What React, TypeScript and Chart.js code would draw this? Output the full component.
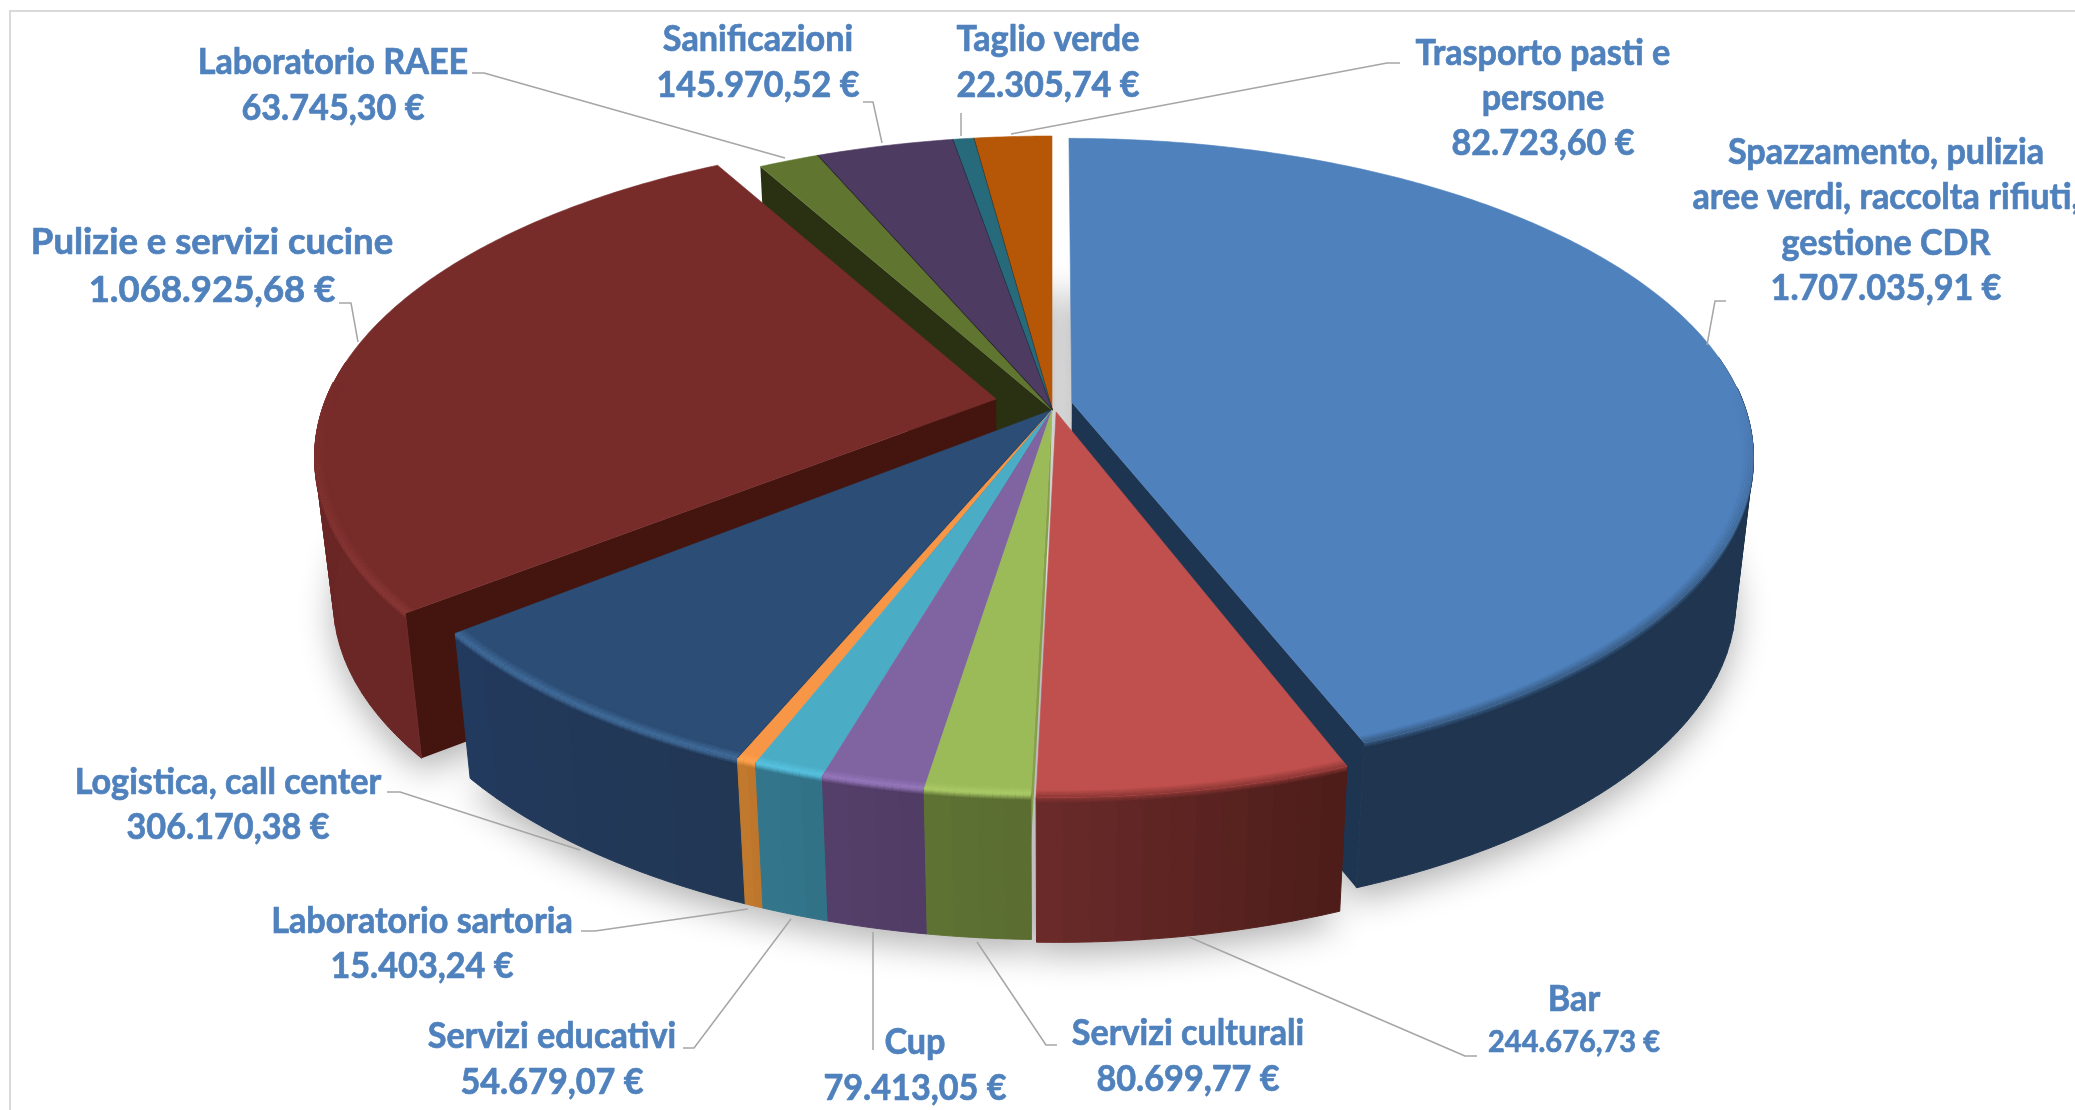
import React, { useEffect, useRef } from "react";
import { Chart, registerables } from "chart.js";

Chart.register(...registerables);

const CATEGORY_LINES: string[][] = [
  ["Spazzamento, pulizia", "aree verdi, raccolta rifiuti,", "gestione CDR"],
  ["Bar"],
  ["Servizi culturali"],
  ["Cup"],
  ["Servizi educativi"],
  ["Laboratorio sartoria"],
  ["Logistica, call center"],
  ["Pulizie e servizi cucine"],
  ["Laboratorio RAEE"],
  ["Sanificazioni"],
  ["Taglio verde"],
  ["Trasporto pasti e", "persone"],
];
const VALUES = [
  1707035.91, 244676.73, 80699.77, 79413.05, 54679.07, 15403.24, 306170.38,
  1068925.68, 63745.3, 145970.52, 22305.74, 82723.6,
];
const EXPLODE = [0.03, 0.006, 0, 0, 0, 0, 0, 0.085, 0, 0, 0, 0];
const NUDGE_U = [0, 0.005, 0, 0, 0, 0, 0, 0, 0, 0, 0, 0];
const SCALE_U = [1, 0.985, 1, 1, 1, 1, 1, 1, 1, 1, 1, 1];
const CUT_DEPTH = [1, 1, 0.35, 1, 1, 1, 1, 1, 1, 1, 1, 1];
const TEXT_STRETCH = [0.95, 0.95, 0.95, 0.95, 0.95, 0.95, 0.95, 1.015, 0.95, 0.95, 0.95, 0.95];

const TOP_COLORS = ["#4f81bd", "#c0504d", "#9bbb59", "#8064a2", "#4bacc6", "#f79646", "#2c4d75", "#772c2a", "#5f7530", "#4d3b62", "#276a7c", "#b65708"];
const BEVEL_COLORS = ["#37597f", "#8a3735", "#abcb69", "#9678bc", "#58c4e2", "#ffa44e", "#44709f", "#8c3a37", "#5f7530", "#4d3b62", "#276a7c", "#b65708"];
const WALL_LEFT = ["#1f3550", "#6b2b2a", "#5f7335", "#553f6c", "#34788e", "#c47c30", "#223a5e", "#652423", "#2a3012", "#2c2140", "#123c48", "#6a3305"];
const WALL_RIGHT = ["#1f3550", "#4e1d1a", "#5b6d31", "#503c64", "#317287", "#bd762c", "#213754", "#6b2726", "#2a3012", "#2c2140", "#123c48", "#6a3305"];
const CUT_COLORS = ["#1d3550", "#5a2120", "#86a04a", "#553f6c", "#34788e", "#c47c30", "#173a60", "#44150f", "#2a3012", "#0f0c1c", "#0e2c35", "#4a2404"];
const EDGE_SLICES = [6, 9, 10, 11];
const TEXT_COLOR = "#4f81bd";
const LEADER_COLOR = "#a6a6a6";

// label centre x, first line centre y, line gap, font size
const LABEL_BOXES: number[][] = [
  [1886, 152, 45.6, 36],
  [1574, 999, 43, 36],
  [1188, 1033, 46, 36],
  [915, 1042, 46, 36],
  [552, 1036, 46, 36],
  [422, 921, 45, 36],
  [228, 782, 45, 36],
  [212, 242, 48, 36],
  [333, 62, 46, 36],
  [758, 39, 46, 36],
  [1048, 39, 46, 36],
  [1543, 53, 45, 36],
];
const VALUE_FONT_OVERRIDE: Record<number, number> = { 1: 30.5 };
const LEADERS: number[][][] = [
  [[1726, 301], [1715, 301], [1707, 345]],
  [[1477, 1056], [1465, 1056], [1189, 937]],
  [[1057, 1045], [1046, 1045], [977, 942]],
  [[873, 1050], [873, 932]],
  [[683, 1048], [694, 1048], [791, 919]],
  [[581, 931], [595, 931], [748, 909]],
  [[387, 792], [400, 792], [580, 850]],
  [[339, 303], [351, 303], [358, 342]],
  [[472, 73], [484, 73], [785, 158]],
  [[863, 102], [873, 102], [882, 143]],
  [[961, 113], [961, 136]],
  [[1011, 134], [1387, 63], [1400, 63]],
];

const CX = 1052, CY = 410, PX = 684, PY = 320, PERSP = 0.168, DEPTH = 145, FLOOR_X = 0.975;

function euro(v: number): string {
  const [i, d] = v.toFixed(2).split(".");
  return i.replace(/\B(?=(\d{3})+(?!\d))/g, ".") + "," + d + " €";
}
function hex(c: string) {
  return [1, 3, 5].map((k) => parseInt(c.slice(k, k + 2), 16));
}
function mix(a: string, b: string, t: number): string {
  const A = hex(a), B = hex(b);
  return `rgb(${A.map((x, i) => Math.round(x + (B[i] - x) * t)).join(",")})`;
}

type Pt = [number, number];
function project(i: number, phi: number, r: number, mid: number, floor: number): Pt {
  const e = EXPLODE[i];
  const u = (r * Math.cos(phi) + e * Math.cos(mid)) * SCALE_U[i] + NUDGE_U[i];
  const v = r * Math.sin(phi) + e * Math.sin(mid);
  const w = 1 / (1 - PERSP * v);
  let x = PX * u * w;
  let y = PY * v * w;
  if (e > 0.02) {
    x *= 0.982;
    y = y * 0.965 - 6;
  }
  x *= 1 - (1 - FLOOR_X) * floor;
  y += DEPTH * floor;
  return [CX + x, CY + y];
}

function poly(ctx: CanvasRenderingContext2D, pts: Pt[], close = true) {
  ctx.beginPath();
  pts.forEach((p, k) => (k ? ctx.lineTo(p[0], p[1]) : ctx.moveTo(p[0], p[1])));
  if (close) ctx.closePath();
}

function angles(a0: number, a1: number, step = 0.01): number[] {
  const n = Math.max(2, Math.ceil((a1 - a0) / step));
  const out: number[] = [];
  for (let k = 0; k <= n; k++) out.push(a0 + ((a1 - a0) * k) / n);
  return out;
}

const pie3d = {
  id: "pie3d",
  beforeDatasetsDraw(chart: any) {
    const ctx: CanvasRenderingContext2D = chart.ctx;
    const arcs = chart.getDatasetMeta(0).data as any[];
    const count = arcs.length;
    const slices = arcs.map((a, i) => {
      const s = a.startAngle as number, t = a.endAngle as number;
      return { i, s, t, mid: (s + t) / 2 };
    });

    ctx.save();
    ctx.fillStyle = "#ffffff";
    ctx.fillRect(0, 0, chart.width, chart.height);
    ctx.strokeStyle = "#d9d9d9";
    ctx.lineWidth = 2;
    ctx.beginPath();
    ctx.moveTo(10, chart.height);
    ctx.lineTo(10, 11);
    ctx.lineTo(chart.width, 11);
    ctx.stroke();

    // soft shadow under the pie
    ctx.save();
    ctx.shadowColor = "rgba(0,0,0,0.30)";
    ctx.shadowBlur = 34;
    ctx.shadowOffsetX = 5000;
    ctx.shadowOffsetY = 12;
    ctx.fillStyle = "#000";
    for (const sl of slices) {
      const pts: Pt[] = [project(sl.i, 0, 0, sl.mid, 1)];
      for (const a of angles(sl.s, sl.t)) pts.push(project(sl.i, a, 1, sl.mid, 1));
      poly(ctx, pts.map((p) => [p[0] - 5000, p[1]] as Pt));
      ctx.fill();
    }
    ctx.restore();

    const order = [...slices].sort((a, b) => Math.sin(a.mid) - Math.sin(b.mid));
    ctx.lineJoin = "round";
    for (const sl of order) {
      const { i, s, t, mid } = sl;
      const topC = (a: number) => project(i, a, 1, mid, 0);
      const botC = (a: number) => project(i, a, 1, mid, 1);
      const c0 = project(i, 0, 0, mid, 0);
      // cut faces: only seen where this slice or its neighbour is pulled out
      const prev = (i + count - 1) % count, next = (i + 1) % count;
      const faces: [number, boolean][] = [
        [s, -Math.cos(s) > 0 && (EXPLODE[i] > 0 || EXPLODE[prev] > 0)],
        [t, Math.cos(t) > 0 && (EXPLODE[i] > 0 || EXPLODE[next] > 0)],
      ];
      for (const [a, show] of faces) {
        if (!show) continue;
        const d = CUT_DEPTH[i];
        // a slice that stays in place keeps its hidden inner end away from the gaps in front of it
        const inner = EXPLODE[i] > 0 ? 0 : 0.15;
        poly(ctx, [c0, topC(a), project(i, a, 1, mid, d), project(i, a, inner, mid, d)]);
        ctx.fillStyle = CUT_COLORS[i];
        ctx.fill();
      }
      // outer wall
      const as = angles(s, t);
      const wallAngles = angles(s, t, 0.035);
      for (let k = 0; k < wallAngles.length - 1; k++) {
        const a0 = wallAngles[k], a1 = wallAngles[k + 1];
        if (Math.sin(a0) < -0.12 && Math.sin(a1) < -0.12) continue;
        const f = k / (wallAngles.length - 1);
        const col = mix(WALL_LEFT[i], WALL_RIGHT[i], 1 - f);
        const pts: Pt[] = [];
        const fine = angles(a0, a1, 0.01);
        fine.forEach((a) => pts.push(topC(a)));
        [...fine].reverse().forEach((a) => pts.push(botC(a)));
        poly(ctx, pts);
        ctx.fillStyle = col;
        ctx.strokeStyle = col;
        ctx.lineWidth = 1;
        ctx.fill();
        ctx.stroke();
      }
      const front = as.filter((a) => Math.sin(a) > -0.12);
      const fade = (a: number) => Math.max(0, Math.min(1, (Math.sin(a) + 0.05) / 0.6));
      // soft transition on the wall's upper edge
      if (front.length > 1) {
        ctx.lineWidth = 1.6;
        for (let j = 0; j < front.length - 1; j++) {
          const a0 = front[j], a1 = front[j + 1], str = fade(a0);
          if (str <= 0) continue;
          const wallC = mix(WALL_LEFT[i], WALL_RIGHT[i], 1 - j / (front.length - 1));
          const wHex = wallC.match(/\d+/g)!.map(Number);
          const wallHex = "#" + wHex.map((n) => n.toString(16).padStart(2, "0")).join("");
          for (let k = 5; k >= 0; k--) {
            const p0 = topC(a0), p1 = topC(a1), dy = k * 1.1 * str;
            poly(ctx, [[p0[0], p0[1] + dy], [p1[0], p1[1] + dy]], false);
            ctx.strokeStyle = mix(BEVEL_COLORS[i], wallHex, k / 5);
            ctx.stroke();
          }
        }
      }
      // top face
      const topPts: Pt[] = [c0, ...as.map(topC)];
      poly(ctx, topPts);
      ctx.fillStyle = TOP_COLORS[i];
      ctx.fill();
      ctx.strokeStyle = TOP_COLORS[i];
      ctx.lineWidth = 0.6;
      ctx.stroke();
      // bevel on the top face's rim
      if (front.length > 1) {
        ctx.save();
        poly(ctx, topPts);
        ctx.clip();
        ctx.lineWidth = 1.8;
        for (let j = 0; j < front.length - 1; j++) {
          const a0 = front[j], a1 = front[j + 1], str = fade(a0);
          if (str <= 0) continue;
          for (let k = 0; k <= 5; k++) {
            const r = 1 - 0.016 * (1 - k / 5);
            poly(ctx, [project(i, a0, r, mid, 0), project(i, a1, r, mid, 0)], false);
            ctx.strokeStyle = mix(TOP_COLORS[i], BEVEL_COLORS[i], (k / 5) * str);
            ctx.stroke();
          }
        }
        ctx.restore();
      }
      if (EDGE_SLICES.includes(i)) {
        poly(ctx, [c0, topC(s)], false);
        ctx.strokeStyle = CUT_COLORS[i];
        ctx.lineWidth = 1.6;
        ctx.stroke();
      }
    }

    // leader lines
    ctx.strokeStyle = LEADER_COLOR;
    ctx.lineWidth = 1.5;
    for (const l of LEADERS) {
      poly(ctx, l as Pt[], false);
      ctx.stroke();
    }

    // labels
    ctx.fillStyle = TEXT_COLOR;
    ctx.strokeStyle = TEXT_COLOR;
    ctx.lineWidth = 0.7;
    ctx.textAlign = "center";
    ctx.textBaseline = "middle";
    const put = (txt: string, x: number, y: number, size: number, sx: number) => {
      ctx.save();
      ctx.font = `bold ${size}px Lato`;
      ctx.translate(x, y);
      ctx.scale(sx, 1);
      ctx.fillText(txt, 0, 0);
      ctx.strokeText(txt, 0, 0);
      ctx.restore();
    };
    CATEGORY_LINES.forEach((lines, i) => {
      const [x, y, gap, size] = LABEL_BOXES[i];
      lines.forEach((ln, k) => put(ln, x, y + gap * k, size, TEXT_STRETCH[i]));
      put(euro(VALUES[i]), x, y + gap * lines.length, VALUE_FONT_OVERRIDE[i] ?? size, TEXT_STRETCH[i]);
    });
    ctx.restore();
    return false;
  },
};

export default function App() {
  const ref = useRef<HTMLCanvasElement>(null);
  useEffect(() => {
    const chart = new Chart(ref.current as HTMLCanvasElement, {
      type: "pie",
      data: {
        labels: CATEGORY_LINES.map((l) => l.join(" ")),
        datasets: [{ data: VALUES, backgroundColor: TOP_COLORS, borderWidth: 0 }],
      },
      options: {
        responsive: false,
        animation: false,
        events: [],
        plugins: { legend: { display: false }, tooltip: { enabled: false } },
      },
      plugins: [pie3d as any],
    });
    return () => chart.destroy();
  }, []);
  return (
    <div style={{ position: "absolute", left: 0, top: 0, width: 2075, height: 1110 }}>
      <canvas ref={ref} width={2075} height={1110} style={{ display: "block" }} />
    </div>
  );
}
